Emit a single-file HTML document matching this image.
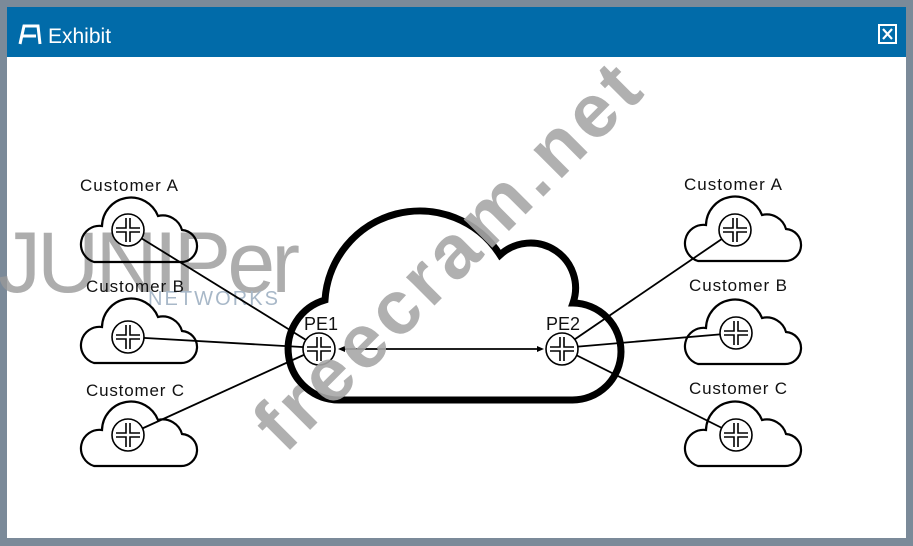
<!DOCTYPE html>
<html><head><style>
html,body{margin:0;padding:0;width:913px;height:546px;overflow:hidden;background:#7b8a99;}
</style></head><body>
<svg width="913" height="546" viewBox="0 0 913 546" xmlns="http://www.w3.org/2000/svg" font-family="Liberation Sans, sans-serif">
<defs>
<path id="sc" d="M16,64 H102 A16,16 0 0 0 104,32 A20,20 0 0 0 80,18 A29,29 0 0 0 24,28 A18.5,18.5 0 0 0 16,64 Z" fill="none" stroke="#000" stroke-width="2.2"/>
<g id="rt">
<circle r="16" fill="#fff" stroke="#000" stroke-width="1.6"/>
<path d="M-2,-12 V-2 H-12 M2,-12 V-2 H12 M-2,12 V2 H-12 M2,12 V2 H12" fill="none" stroke="#000" stroke-width="1.6"/>
</g>
</defs>
<rect x="7" y="7" width="899" height="531" fill="#fff"/>
<rect x="7" y="7" width="899" height="50" fill="#016ba9"/>
<path d="M20,44 L24,26 H38 L40,44 M22,36 H36" stroke="#fff" stroke-width="3" fill="none"/>
<text x="48" y="43" font-size="21" fill="#fff">Exhibit</text>
<rect x="879" y="25" width="17" height="18" fill="none" stroke="#fff" stroke-width="2"/>
<path d="M883,29 L892,39 M892,29 L883,39" stroke="#fff" stroke-width="2.2"/>

<!-- watermarks -->
<text x="-2" y="292" font-size="86" fill="#999" opacity="0.8" letter-spacing="-2" textLength="300">JUNIPer</text>
<text x="148" y="305" font-size="20" fill="#a8b8c8" textLength="130">NETWORKS</text>

<!-- lines -->
<g stroke="#000" stroke-width="1.8">
<line x1="128" y1="230" x2="319" y2="348"/>
<line x1="128" y1="337" x2="319" y2="348"/>
<line x1="128" y1="435" x2="319" y2="348"/>
<line x1="735" y1="230" x2="562" y2="348"/>
<line x1="736" y1="333" x2="562" y2="348"/>
<line x1="736" y1="435" x2="562" y2="348"/>
<line x1="342" y1="349" x2="540" y2="349"/>
</g>
<path d="M338,349 l7,-3 v6z M544,349 l-7,-3 v6z" fill="#000"/>

<!-- big cloud -->
<path d="M340,400 H572 A48.5,48.5 0 0 0 573,303 A45,45 0 0 0 500,255 A95,95 0 0 0 325,300 A51,51 0 0 0 340,400 Z" fill="none" stroke="#000" stroke-width="7"/>

<!-- small clouds -->
<use href="#sc" x="78" y="198"/>
<use href="#sc" x="78" y="299"/>
<use href="#sc" x="78" y="402"/>
<use href="#sc" x="682" y="197"/>
<use href="#sc" x="682" y="300"/>
<use href="#sc" x="682" y="402"/>

<use href="#rt" x="128" y="230"/>
<use href="#rt" x="128" y="337"/>
<use href="#rt" x="128" y="435"/>
<use href="#rt" x="735" y="230"/>
<use href="#rt" x="736" y="333"/>
<use href="#rt" x="736" y="435"/>
<use href="#rt" x="319" y="349"/>
<use href="#rt" x="562" y="349"/>

<g font-size="17" fill="#111">
<text x="80" y="191" textLength="98">Customer A</text>
<text x="86" y="292" textLength="98">Customer B</text>
<text x="86" y="396" textLength="98">Customer C</text>
<text x="684" y="190" textLength="98">Customer A</text>
<text x="689" y="291" textLength="98">Customer B</text>
<text x="689" y="394" textLength="98">Customer C</text>
<text x="304" y="330" font-size="18">PE1</text>
<text x="546" y="330" font-size="18">PE2</text>
</g>

<text x="0" y="0" font-size="76" font-weight="bold" fill="#a8a8a8" opacity="0.9" textLength="510" transform="translate(285,455) rotate(-45)">freecram.net</text>
</svg>
</body></html>
